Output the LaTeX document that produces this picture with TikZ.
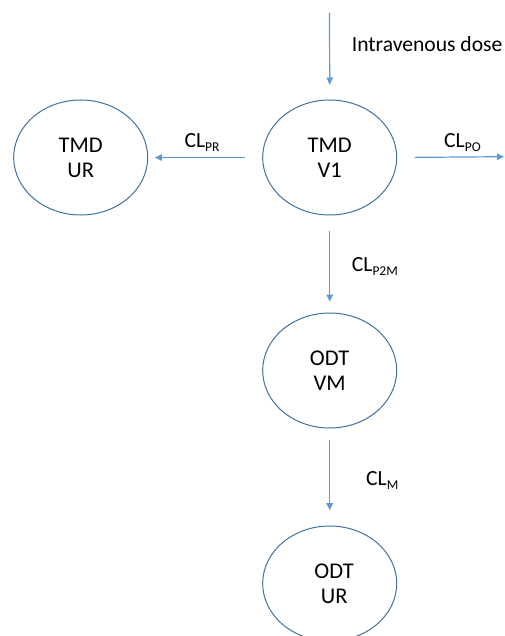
\documentclass[tikz,border=0pt]{standalone}
\usepackage{fontspec}
\setmainfont{Carlito}
\usetikzlibrary{shapes.geometric,arrows.meta}
\definecolor{ellcol}{HTML}{41719C}
\definecolor{arrcol}{HTML}{5B9BD5}
\newcommand{\clsub}[1]{CL\raisebox{-0.19em}{\fontsize{13.5}{13.5}\selectfont #1}}
\tikzset{
  comp/.style={ellipse, draw=ellcol, line width=1pt, minimum width=134pt, minimum height=115pt,
    inner sep=0pt, align=center, font=\fontsize{22.5}{25}\selectfont},
  arr/.style={draw=arrcol, line width=1.2pt, -{Triangle[length=7pt,width=6.5pt]}},
  lbl/.style={inner sep=0pt, font=\fontsize{21.6}{25}\selectfont, anchor=base west}
}
\begin{document}
\begin{tikzpicture}[x=1pt,y=-1pt]
\useasboundingbox (0,0) rectangle (504,636);
\clip (0,0) rectangle (504,636);
\node[comp] (v1) at (329.7,157.5) {TMD\\V1};
\node[comp] (ur) at (80.7,157.5) {TMD\\UR};
\node[comp] (vm) at (329.7,370.5) {ODT\\VM};
\node[comp] (odtur) at (329.7,583.5) {\hspace*{9pt}ODT\\\hspace*{9pt}UR};
\coordinate (ivstart) at (329.5,13);
\coordinate (poend) at (504,156.7);
\draw[arr] (ivstart) -- ([yshift=15pt]v1.north);
\draw[arr, shorten <=17.4pt, shorten >=6.7pt] (v1.west) -- (ur.east);
\draw[arr, shorten <=17.3pt] (v1.east) -- (poend);
\draw[arr, shorten <=15pt, shorten >=11pt] (v1.south) -- (vm.north);
\draw[arr, shorten <=11pt, shorten >=15.3pt] (vm.south) -- (odtur.north);
\node[lbl] (ivlbl) at (351.7,51.7) {Intravenous dose};
\node[lbl] (prlbl) at (184.3,147.7) {\clsub{PR}};
\node[lbl] (polbl) at (444,147.7) {\clsub{PO}};
\node[lbl] (p2mlbl) at (351.7,271.7) {\clsub{P2M}};
\node[lbl] (mlbl) at (366,485) {\clsub{M}};
\end{tikzpicture}
\end{document}
